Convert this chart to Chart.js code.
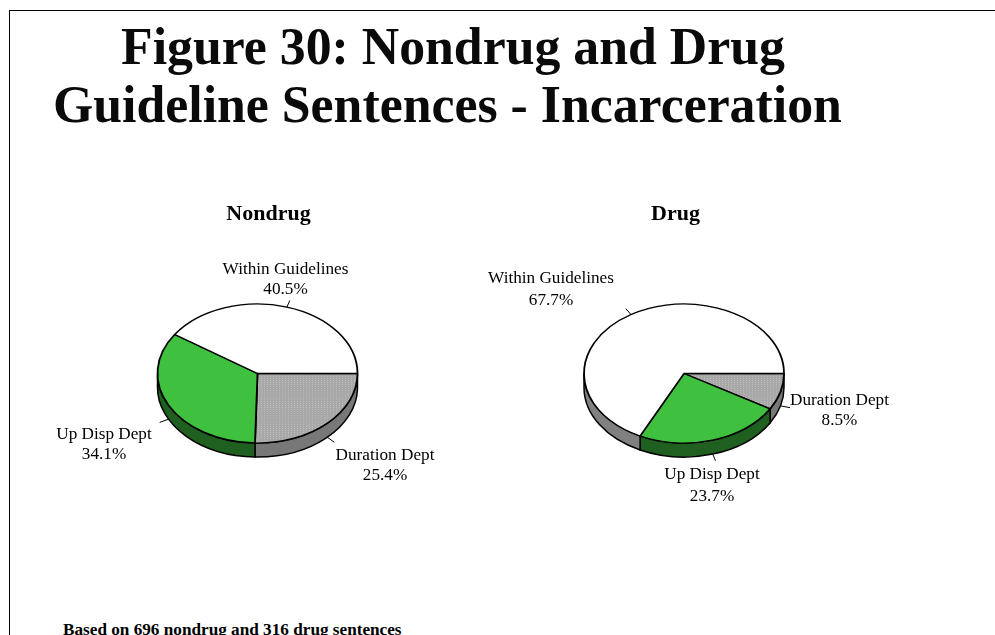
<!DOCTYPE html>
<html>
<head>
<meta charset="utf-8">
<title>Figure 30</title>
<script src="https://cdn.jsdelivr.net/npm/chart.js@4.4.1/dist/chart.umd.min.js"></script>
<style>
  html, body { margin: 0; padding: 0; background: #fff; }
  body { width: 995px; height: 635px; overflow: hidden; position: relative; font-family: "Liberation Serif", serif; color: #000; }
  .frame { position: absolute; left: 9px; top: 10px; width: 986px; height: 625px; border-left: 1px solid #000; border-top: 1px solid #000; box-sizing: border-box; }
  .headline { position: absolute; white-space: nowrap; font-weight: bold; font-size: 51.8px; line-height: 60px; color: #0a0a0a; }
  .note { position: absolute; left: 63px; top: 620px; white-space: nowrap; font-weight: bold; font-size: 17.2px; line-height: 20px; }
  canvas { position: absolute; }
</style>
</head>
<body>
<div class="frame"></div>
<div class="headline" style="left:121px;top:17px">Figure 30: Nondrug and Drug</div>
<div class="headline" style="left:53px;top:75px">Guideline Sentences - Incarceration</div>
<canvas id="nondrug" style="left:20px;top:190px;width:497px;height:340px"></canvas>
<canvas id="drug" style="left:400px;top:190px;width:551px;height:340px"></canvas>
<div class="note">Based on 696 nondrug and 316 drug sentences</div>
<script>
const categories = ["Duration Dept", "Up Disp Dept", "Within Guidelines"];
const nondrugValues = [25.4, 34.1, 40.5];
const drugValues = [8.5, 23.7, 67.7];

const topColors = ["#b0b0b0", "#3fc03f", "#ffffff"];
const wallColors = ["#787878", "#1f5f1f", "#808080"];
const tilt = 0.695;
const depth = 14;

// small dither, the duration slice is not a flat grey in the original
function dotPattern() {
  const tile = document.createElement("canvas");
  tile.width = 3;
  tile.height = 3;
  const c = tile.getContext("2d");
  c.fillStyle = "#a8a8a8";
  c.fillRect(0, 0, 3, 3);
  c.fillStyle = "#c4c4c4";
  c.fillRect(1, 1, 1, 1);
  return c.createPattern(tile, "repeat");
}

function drawWalls(chart, arcs) {
  const ctx = chart.ctx;
  arcs.forEach((arc, i) => {
    const a = Math.max(arc.startAngle, 0);
    const b = Math.min(arc.endAngle, Math.PI);
    if (a >= b) return;
    const rx = arc.outerRadius;
    const ry = rx * tilt;
    ctx.beginPath();
    ctx.ellipse(arc.x, arc.y, rx, ry, 0, a, b);
    ctx.ellipse(arc.x, arc.y + depth, rx, ry, 0, b, a, true);
    ctx.closePath();
    ctx.fillStyle = wallColors[i];
    ctx.fill();
    ctx.lineWidth = 1.5;
    ctx.strokeStyle = "#000";
    ctx.stroke();
  });
}

function drawCallouts(chart, arcs, values, anchors) {
  const ctx = chart.ctx;
  const box = chart.canvas.getBoundingClientRect();
  arcs.forEach((arc, i) => {
    const mid = (arc.startAngle + arc.endAngle) / 2;
    const rx = arc.outerRadius;
    const ry = rx * tilt;
    const drop = Math.sin(mid) > 0 ? depth : 0;
    ctx.beginPath();
    ctx.moveTo(arc.x + Math.cos(mid) * rx, arc.y + drop + Math.sin(mid) * ry);
    ctx.lineTo(arc.x + Math.cos(mid) * rx * 1.1, arc.y + drop + Math.sin(mid) * ry * 1.1);
    ctx.lineWidth = 1;
    ctx.strokeStyle = "#000";
    ctx.stroke();

    ctx.font = "17.2px 'Liberation Serif'";
    ctx.fillStyle = "#000";
    ctx.textAlign = "center";
    ctx.textBaseline = "middle";
    const [x, y, y2] = anchors[i];
    ctx.fillText(categories[i], x - box.left, y - box.top);
    ctx.fillText(values[i].toFixed(1) + "%", x - box.left, y2 - box.top);
  });
}

const tiltedPie = {
  id: "tiltedPie",
  beforeDatasetsDraw(chart) {
    const arcs = chart.getDatasetMeta(0).data;
    drawWalls(chart, arcs);
    const ctx = chart.ctx;
    ctx.save();
    ctx.translate(arcs[0].x, arcs[0].y);
    ctx.scale(1, tilt);
    ctx.translate(-arcs[0].x, -arcs[0].y);
  },
  afterDatasetsDraw(chart, args, opts) {
    const ctx = chart.ctx;
    ctx.restore();
    drawCallouts(chart, chart.getDatasetMeta(0).data, chart.data.datasets[0].data, opts.anchors);
    const box = chart.canvas.getBoundingClientRect();
    ctx.font = "bold 22px 'Liberation Serif'";
    ctx.fillStyle = "#000";
    ctx.textAlign = "center";
    ctx.textBaseline = "middle";
    ctx.fillText(opts.name, opts.titleX - box.left, 214 - box.top);
  },
};

function makePie(id, name, titleX, values, padding, anchors) {
  return new Chart(document.getElementById(id), {
    type: "pie",
    data: {
      labels: categories,
      datasets: [{
        data: values,
        backgroundColor: [dotPattern(), topColors[1], topColors[2]],
        borderColor: "#000",
        borderWidth: 1.8,
        clip: false,
      }],
    },
    options: {
      responsive: false,
      animation: false,
      rotation: 90,
      radius: 100,
      layout: { padding },
      events: [],
      plugins: {
        legend: { display: false },
        tooltip: { enabled: false },
        title: { display: false },
        tiltedPie: { anchors, name, titleX },
      },
    },
    plugins: [tiltedPie],
  });
}

function sizeCanvas(id, w, h) {
  const el = document.getElementById(id);
  el.width = w;
  el.height = h;
}

sizeCanvas("nondrug", 497, 340);
sizeCanvas("drug", 551, 340);

makePie("nondrug", "Nondrug", 268.5, nondrugValues,
  { left: 137.5, right: 159.5, top: 83.5, bottom: 56.5 },
  [[385, 455, 475.5], [104, 434, 454], [285.5, 269, 289]]);

makePie("drug", "Drug", 675.5, drugValues,
  { left: 184, right: 167, top: 83.5, bottom: 56.5 },
  [[839.5, 400, 420], [712, 474, 496], [551, 278, 300]]);
</script>
</body>
</html>
